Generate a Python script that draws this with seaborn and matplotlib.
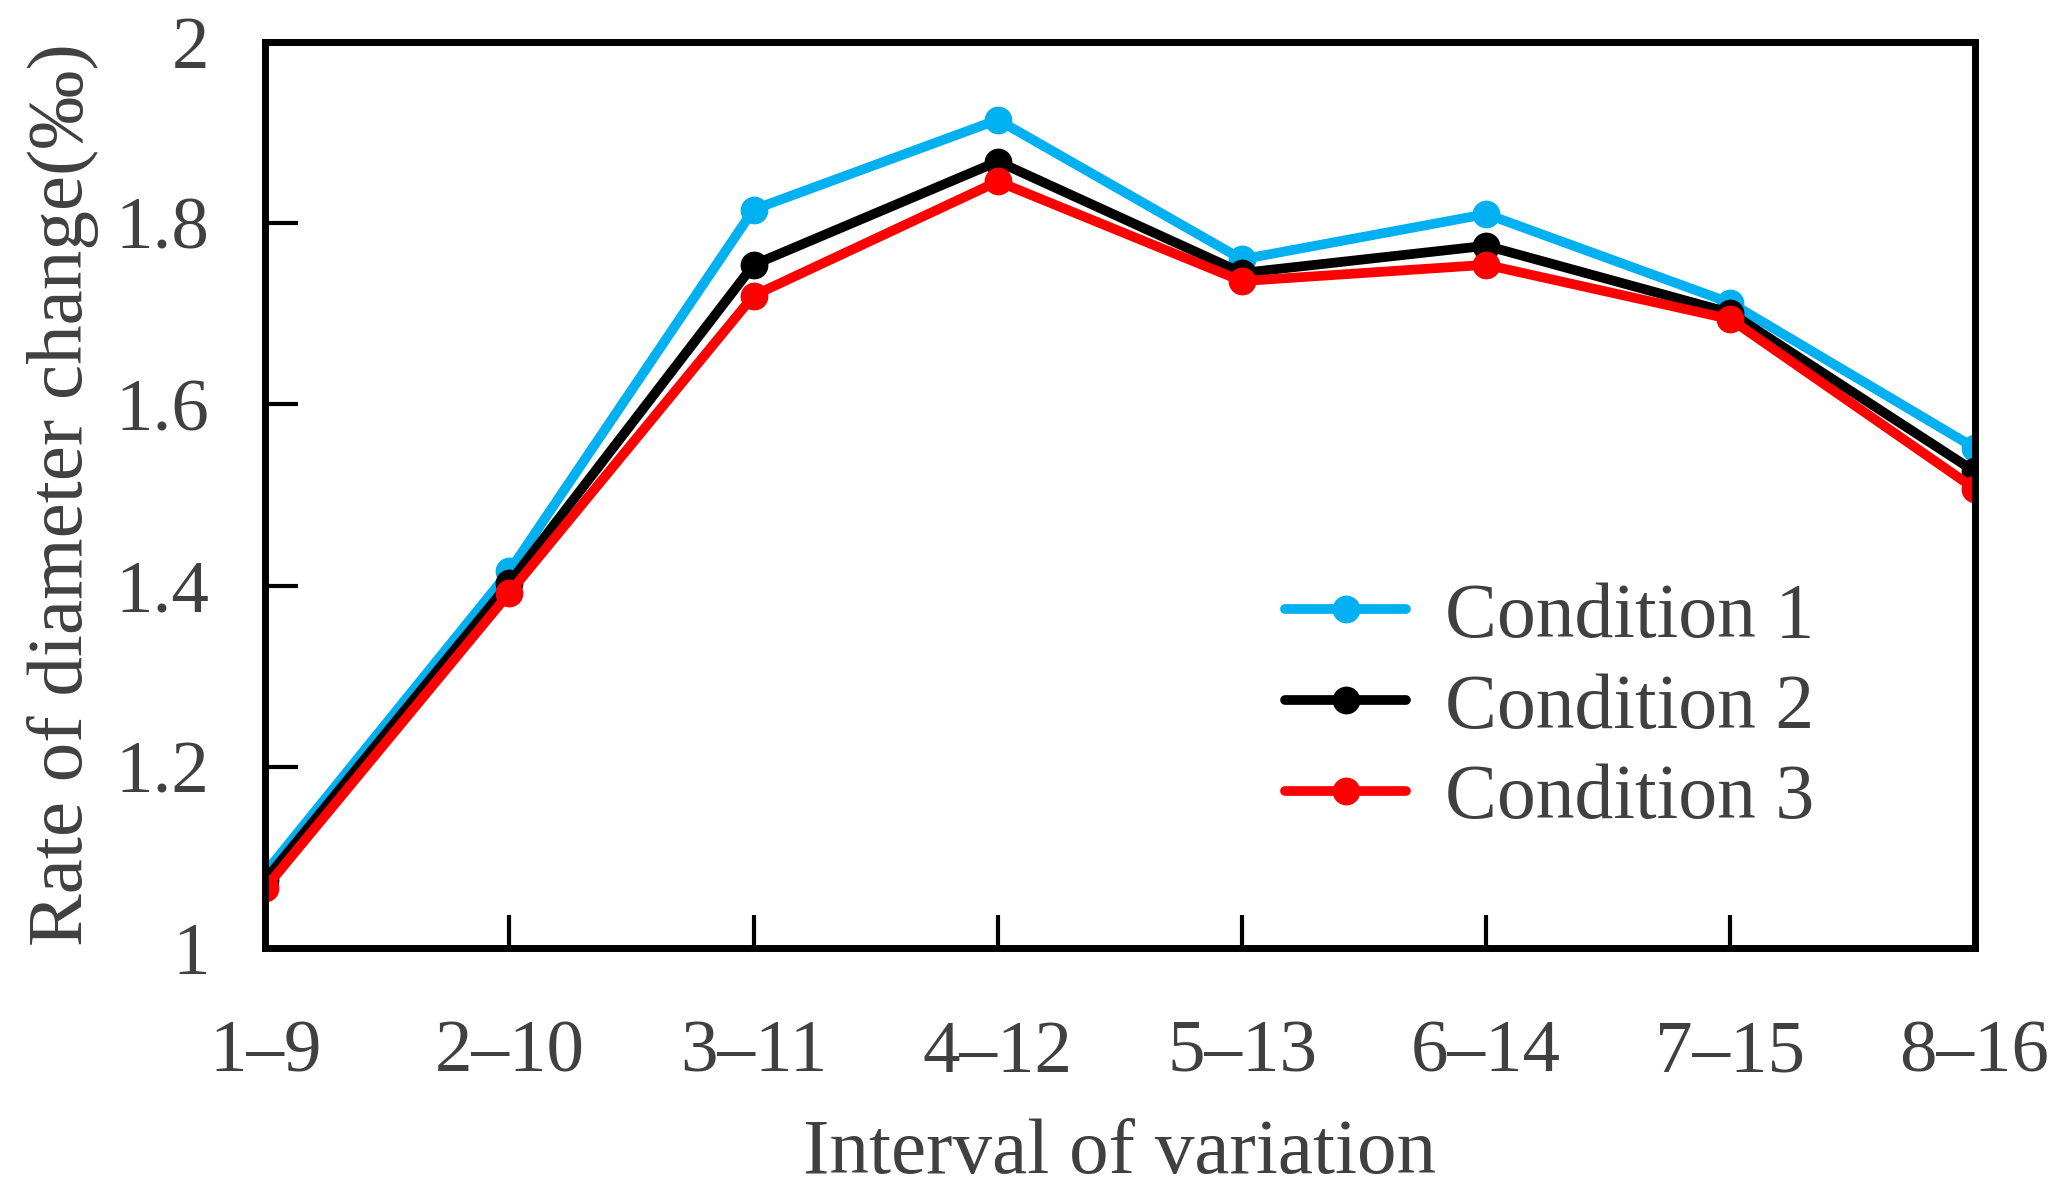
import pandas as pd
import matplotlib
matplotlib.use("Agg")
import matplotlib.pyplot as plt
import seaborn as sns

# ---- data ----
intervals = ["1–9", "2–10", "3–11", "4–12", "5–13", "6–14", "7–15", "8–16"]
condition_1 = [1.083, 1.416, 1.815, 1.914, 1.760, 1.810, 1.712, 1.552]
condition_2 = [1.075, 1.403, 1.754, 1.868, 1.745, 1.775, 1.701, 1.526]
condition_3 = [1.066, 1.392, 1.720, 1.846, 1.736, 1.754, 1.694, 1.507]
series_names = ["Condition 1", "Condition 2", "Condition 3"]
series_colors = ["#00B0F0", "#000000", "#FF0000"]

df = pd.DataFrame({
    "interval": intervals * 3,
    "rate": condition_1 + condition_2 + condition_3,
    "condition": [n for n in series_names for _ in intervals],
})

sns.set_theme(style="white")
plt.rcParams["font.family"] = ["Liberation Serif", "DejaVu Serif"]
text_color = "#404040"

fig = plt.figure(figsize=(20.72, 11.97), dpi=100)
ax = fig.add_axes([0.128, 0.208, 0.825, 0.757])

sns.lineplot(data=df, x="interval", y="rate", hue="condition", palette=series_colors,
             style="condition", markers=["o", "o", "o"], dashes=False, sort=False,
             linewidth=7, markersize=20, markeredgewidth=0, ax=ax, legend=False)

ax.set_ylim(1, 2)
ax.set_yticks([1, 1.2, 1.4, 1.6, 1.8, 2])
ax.set_yticklabels(["1", "1.2", "1.4", "1.6", "1.8", "2"])
ax.set_xlim(0, len(intervals) - 1)

for s in ax.spines.values():
    s.set_visible(True)
    s.set_color("black")
    s.set_linewidth(5)

# inward ticks on bottom and left only
ax.tick_params(axis="both", which="major", direction="in", length=24, width=3,
               color="black", bottom=True, left=True, top=False, right=False,
               labelsize=54, labelcolor=text_color)
ax.tick_params(axis="x", pad=52)
ax.tick_params(axis="y", pad=40)

ax.set_xlabel("Interval of variation", fontsize=57, color=text_color, labelpad=22)
ax.set_ylabel("Rate of diameter change(‰)", fontsize=57, color=text_color, labelpad=12)

handles = [plt.Line2D([], [], color=c, lw=7, marker="o", markersize=20, markeredgewidth=0)
           for c in series_colors]
ax.legend(handles, series_names, loc="lower right", bbox_to_anchor=(0.947, 0.047),
          frameon=False, fontsize=56, labelcolor=text_color, handlelength=1.55,
          handletextpad=0.5, labelspacing=0.25)

fig.savefig("out.png", dpi=100)
